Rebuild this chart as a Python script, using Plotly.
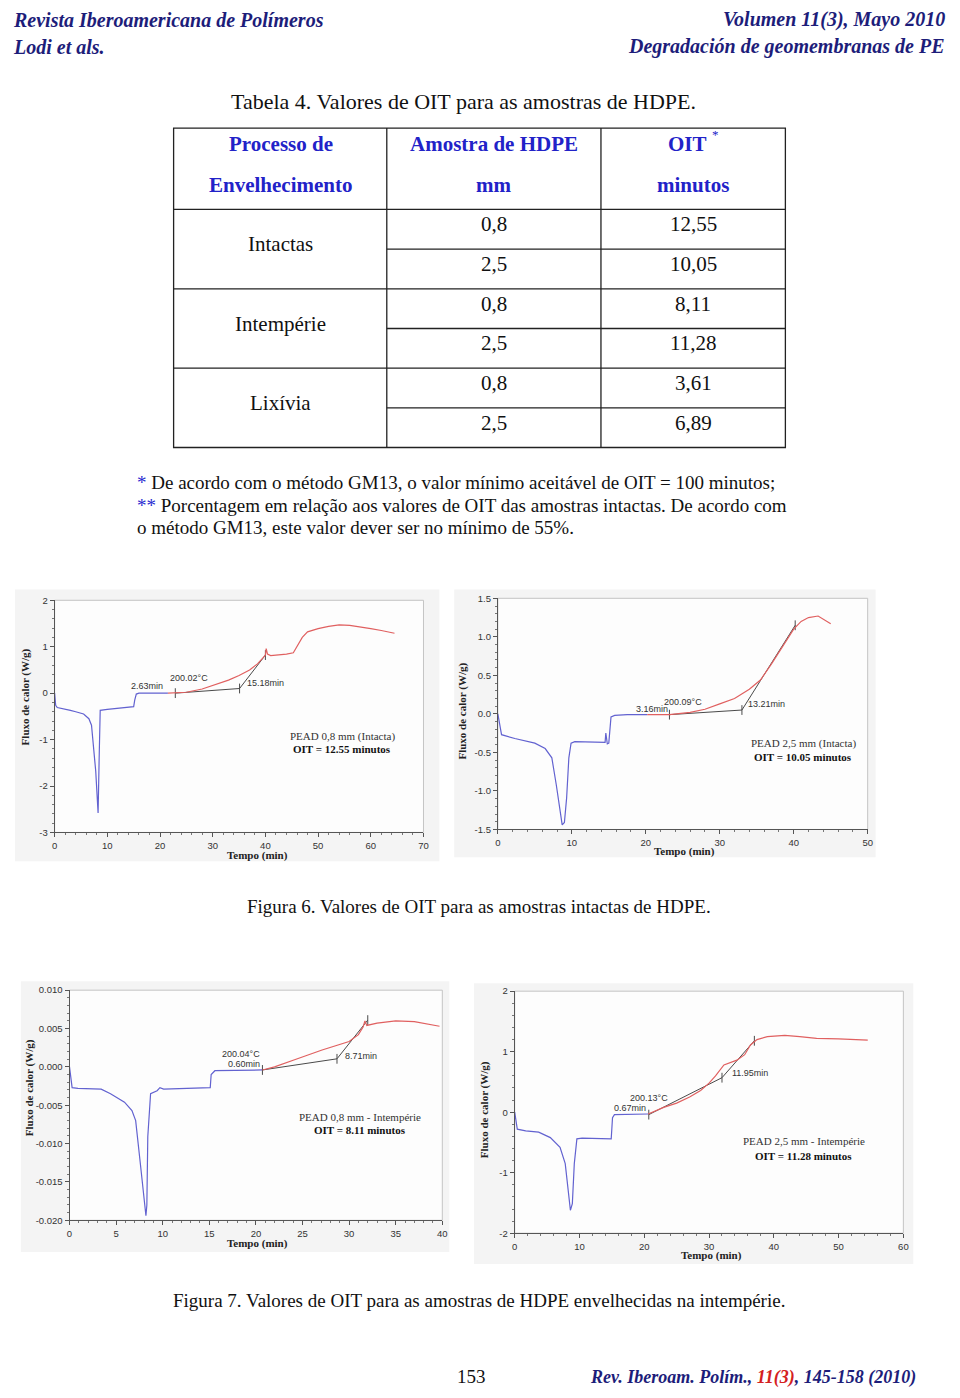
import plotly.graph_objects as go

# page of 960x1398; the browser keeps an 8 px body margin, so the figure is 944x1382
PAGE_MARGIN = 8
W, H = 960 - 2 * PAGE_MARGIN, 1398 - 2 * PAGE_MARGIN

# Tabela 4 - valores de OIT
processos = ["Intactas", "Intempérie", "Lixívia"]
espessuras = ["0,8", "2,5", "0,8", "2,5", "0,8", "2,5"]
oit_valores = ["12,55", "10,05", "8,11", "11,28", "3,61", "6,89"]

# Figura 6a - PEAD 0,8 mm (Intacta)
t1_azul = [0, 0.2, 0.5, 1.5, 3, 4, 5.5, 6.5, 7.0, 7.8, 8.25, 8.45, 8.65, 10, 12, 14, 15.0, 15.2, 15.5, 16, 18, 20, 21.5]
f1_azul = [0, -0.26, -0.31, -0.33, -0.37, -0.40, -0.45, -0.55, -0.69, -1.68, -2.58, -1.4, -0.37, -0.35, -0.33, -0.31, -0.29, -0.15, -0.02, 0.0, 0.0, 0.0, 0.0]
t1_verm = [21.5, 25, 28, 30, 33, 35, 37, 38.5, 40, 40.15, 40.4, 41, 42, 44, 45.3, 46, 47, 48, 50, 52, 54, 56, 58, 60, 62, 64.5]
f1_verm = [0.0, 0.02, 0.09, 0.17, 0.28, 0.38, 0.5, 0.63, 0.82, 0.96, 0.84, 0.81, 0.82, 0.84, 0.87, 1.0, 1.2, 1.32, 1.39, 1.44, 1.47, 1.46, 1.43, 1.39, 1.35, 1.29]
t1_tang = [22.9, 35.1, 40.0]
f1_tang = [0.0, 0.1, 0.82]
x1_ticks = [0, 10, 20, 30, 40, 50, 60, 70]
y1_ticks = [-3, -2, -1, 0, 1, 2]

# Figura 6b - PEAD 2,5 mm (Intacta)
t2_azul = [0, 0.5, 2.3, 5, 6.4, 7.3, 7.9, 8.4, 8.7, 9.0, 9.3, 9.6, 9.9, 10.4, 14.5, 14.6, 14.8, 15.0, 15.3, 15.8, 17.5, 20.2]
f2_azul = [0, -0.27, -0.32, -0.38, -0.45, -0.57, -0.92, -1.26, -1.44, -1.41, -1.09, -0.57, -0.38, -0.36, -0.37, -0.25, -0.39, -0.38, -0.04, -0.02, -0.01, -0.01]
t2_verm = [20.2, 23.2, 26, 28, 30, 32, 34, 35.5, 37, 38.5, 40, 41, 42, 43.3, 44, 45]
f2_verm = [-0.01, -0.01, 0.02, 0.06, 0.13, 0.2, 0.32, 0.44, 0.65, 0.88, 1.1, 1.2, 1.25, 1.27, 1.23, 1.17]
t2_tang = [23.2, 33.0, 40.2]
f2_tang = [-0.01, 0.05, 1.15]
x2_ticks = [0, 10, 20, 30, 40, 50]
y2_ticks = [-1.5, -1.0, -0.5, 0.0, 0.5, 1.0, 1.5]

# Figura 7a - PEAD 0,8 mm - Intempérie
t3_azul = [0, 0.28, 0.9, 3.4, 4.4, 5.9, 6.7, 7.1, 7.6, 8.1, 8.2, 8.3, 8.4, 8.7, 9.4, 9.7, 10.1, 15.1, 15.2, 15.6, 17.2, 20.7]
f3_azul = [0, -0.0027, -0.0028, -0.0029, -0.0035, -0.0046, -0.0057, -0.0070, -0.0126, -0.0177, -0.0194, -0.0180, -0.0091, -0.0035, -0.0031, -0.0027, -0.0029, -0.0027, -0.0010, -0.0005, -0.00045, -0.0004]
t3_verm = [20.7, 22, 24.3, 27.1, 30, 31.0, 31.5, 31.7, 31.9, 33, 35, 37, 39.7]
f3_verm = [-0.0004, 0.0, 0.001, 0.0022, 0.0033, 0.0042, 0.0052, 0.0060, 0.0054, 0.0057, 0.0060, 0.0059, 0.0053]
t3_tang = [20.7, 28.7, 32.0]
f3_tang = [-0.0004, 0.00105, 0.0061]
x3_ticks = [0, 5, 10, 15, 20, 25, 30, 35, 40]
y3_ticks = [-0.020, -0.015, -0.010, -0.005, 0.000, 0.005, 0.010]

# Figura 7b - PEAD 2,5 mm - Intempérie
t4_azul = [0, 0.4, 1.7, 3.7, 5.5, 7.0, 7.8, 8.3, 8.6, 8.9, 9.2, 9.6, 10.4, 14.9, 15.1, 15.4, 18.5, 20.6]
f4_azul = [0, -0.28, -0.31, -0.33, -0.42, -0.58, -0.85, -1.29, -1.62, -1.51, -0.85, -0.44, -0.43, -0.44, -0.09, -0.04, -0.04, -0.03]
t4_verm = [20.6, 22, 23, 25, 27, 28.7, 30, 31, 32.3, 34.3, 35.5, 36.4, 37.4, 39, 41.7, 44, 46.6, 50, 54.5]
f4_verm = [-0.03, 0.03, 0.08, 0.15, 0.25, 0.36, 0.48, 0.6, 0.78, 0.86, 0.95, 1.11, 1.2, 1.25, 1.27, 1.25, 1.22, 1.21, 1.19]
t4_tang = [20.7, 32.0, 37.0]
f4_tang = [-0.04, 0.57, 1.18]
x4_ticks = [0, 10, 20, 30, 40, 50, 60]
y4_ticks = [-2, -1, 0, 1, 2]

paineis = [
    dict(t_azul=t1_azul, f_azul=f1_azul, t_verm=t1_verm, f_verm=f1_verm, t_tang=t1_tang, f_tang=f1_tang,
         xt=x1_ticks, yt=y1_ticks, fmt="{:g}", mdx=2, mdy=0.2,
         xdom=(52, 424), ydom=(599, 833), xr=[0, 70], yr=[-3, 2],
         img=(12, 588, 440, 862), ytit=(23, 696), xtit=(257, 856),
         rotulos=[("2.63min", 21.0, 0.15, "right"), ("200.02°C", 21.6, 0.33, "left"), ("15.18min", 36.2, 0.21, "left")],
         caixa=(54.6, -0.93, -1.2, "PEAD 0,8 mm (Intacta)", "OIT = 12.55 minutos")),
    dict(t_azul=t2_azul, f_azul=f2_azul, t_verm=t2_verm, f_verm=f2_verm, t_tang=t2_tang, f_tang=f2_tang,
         xt=x2_ticks, yt=y2_ticks, fmt="{:.1f}", mdx=2, mdy=0.1,
         xdom=(499, 872), ydom=(597, 830), xr=[0, 50], yr=[-1.5, 1.5],
         img=(455, 588, 880, 858), ytit=(463, 711), xtit=(687, 852),
         rotulos=[("3.16min", 18.4, 0.06, "left"), ("200.09°C", 22.2, 0.16, "left"), ("13.21min", 33.6, 0.13, "left")],
         caixa=(41.3, -0.39, -0.56, "PEAD 2,5 mm (Intacta)", "OIT = 10.05 minutos")),
    dict(t_azul=t3_azul, f_azul=f3_azul, t_verm=t3_verm, f_verm=f3_verm, t_tang=t3_tang, f_tang=f3_tang,
         xt=x3_ticks, yt=y3_ticks, fmt="{:.3f}", mdx=1, mdy=0.001,
         xdom=(67, 443), ydom=(992, 1224), xr=[0, 40], yr=[-0.02, 0.01],
         img=(18, 983, 450, 1256), ytit=(27, 1090), xtit=(257, 1247),
         rotulos=[("200.04°C", 20.6, 0.0017, "right"), ("0.60min", 20.7, 0.0004, "right"), ("8.71min", 29.3, 0.0014, "left")],
         caixa=(31.2, -0.0065, -0.0082, "PEAD 0,8 mm - Intempérie", "OIT = 8.11 minutos")),
    dict(t_azul=t4_azul, f_azul=f4_azul, t_verm=t4_verm, f_verm=f4_verm, t_tang=t4_tang, f_tang=f4_tang,
         xt=x4_ticks, yt=y4_ticks, fmt="{:g}", mdx=2, mdy=0.2,
         xdom=(516, 908), ydom=(993, 1237), xr=[0, 60], yr=[-2, 2],
         img=(475, 985, 918, 1268), ytit=(485, 1112), xtit=(714, 1259),
         rotulos=[("200.13°C", 17.5, 0.24, "left"), ("0.67min", 20.6, 0.07, "right"), ("11.95min", 33.3, 0.65, "left")],
         caixa=(44.6, -0.48, -0.73, "PEAD 2,5 mm - Intempérie", "OIT = 11.28 minutos")),
]


def px(x):
    return (x - PAGE_MARGIN) / W


def py(y):
    return 1 - (y - PAGE_MARGIN) / H


SERIF = "Liberation Serif, Times New Roman, serif"
SANS = "Liberation Sans, Arial, sans-serif"
NAVY = "#1d1d7a"
AZUL_TAB = "#2222c8"

fig = go.Figure()
shapes = []
annotations = []

for i, p in enumerate(paineis, start=1):
    sx = "" if i == 1 else str(i)
    xa, ya = "x" + sx, "y" + sx

    fig.add_trace(go.Scatter(x=p["t_azul"], y=p["f_azul"], mode="lines", xaxis=xa, yaxis=ya,
                             line=dict(color="#6262d0", width=1.2), showlegend=False))
    fig.add_trace(go.Scatter(x=p["t_tang"], y=p["f_tang"], mode="lines+markers", xaxis=xa, yaxis=ya,
                             line=dict(color="#4a4a4a", width=1),
                             marker=dict(symbol="line-ns", size=7, line=dict(color="#4a4a4a", width=1)),
                             showlegend=False))
    fig.add_trace(go.Scatter(x=p["t_verm"], y=p["f_verm"], mode="lines", xaxis=xa, yaxis=ya,
                             line=dict(color="#e06060", width=1.2), showlegend=False))

    eixo = dict(showline=True, linecolor="#555", linewidth=1, ticks="outside", ticklen=4, tickcolor="#555",
                tickfont=dict(family=SANS, size=9.5, color="#333"), showgrid=False, zeroline=False)
    fig.layout["xaxis" + sx] = dict(eixo, domain=[px(p["xdom"][0]), px(p["xdom"][1])], range=p["xr"],
                                    tickmode="array", tickvals=p["xt"], ticktext=[str(v) for v in p["xt"]],
                                    anchor=ya,
                                    minor=dict(ticks="outside", ticklen=2, tickcolor="#777", dtick=p["mdx"], tick0=0))
    fig.layout["yaxis" + sx] = dict(eixo, domain=[py(p["ydom"][1]), py(p["ydom"][0])], range=p["yr"],
                                    tickmode="array", tickvals=p["yt"], ticktext=[p["fmt"].format(v) for v in p["yt"]],
                                    anchor=xa,
                                    minor=dict(ticks="outside", ticklen=2, tickcolor="#777", dtick=p["mdy"], tick0=0))

    x0, y0, x1, y1 = p["img"]
    shapes.append(dict(type="rect", xref="paper", yref="paper", x0=px(x0), x1=px(x1), y0=py(y1), y1=py(y0),
                       fillcolor="#f4f4f4", line=dict(width=0), layer="below"))
    shapes.append(dict(type="rect", xref=xa + " domain", yref=ya + " domain", x0=0, x1=1, y0=0, y1=1,
                       fillcolor="#fdfdfd", line=dict(color="#c4c4c4", width=1), layer="below"))

    annotations.append(dict(text="<b>Fluxo de calor (W/g)</b>", xref="paper", yref="paper",
                            x=px(p["ytit"][0]), y=py(p["ytit"][1]), xanchor="center", yanchor="middle",
                            textangle=-90, showarrow=False, font=dict(family=SERIF, size=11, color="#222")))
    annotations.append(dict(text="<b>Tempo (min)</b>", xref="paper", yref="paper",
                            x=px(p["xtit"][0]), y=py(p["xtit"][1]), xanchor="center", yanchor="middle",
                            showarrow=False, font=dict(family=SERIF, size=11, color="#222")))
    for txt_, tx, ty, anc in p["rotulos"]:
        annotations.append(dict(text=txt_, xref=xa, yref=ya, x=tx, y=ty, xanchor=anc, yanchor="middle",
                                showarrow=False, font=dict(family=SANS, size=9, color="#333")))
    cx, cy1, cy2, l1, l2 = p["caixa"]
    annotations.append(dict(text=l1, xref=xa, yref=ya, x=cx, y=cy1, xanchor="center", yanchor="middle",
                            showarrow=False, font=dict(family=SERIF, size=11, color="#333")))
    annotations.append(dict(text="<b>" + l2 + "</b>", xref=xa, yref=ya, x=cx, y=cy2, xanchor="center",
                            yanchor="middle", showarrow=False, font=dict(family=SERIF, size=11, color="#111")))


def txt(s, x, y, size=21, color="#111", anc="center", fam=SERIF):
    return dict(text=s, x=px(x), y=py(y), xref="paper", yref="paper", xanchor=anc, yanchor="middle",
                showarrow=False, font=dict(family=fam, size=size, color=color))


# Cabeçalho
annotations += [
    txt("<b><i>Revista Iberoamericana de Polímeros</i></b>", 8, 14, size=20, color=NAVY, anc="left"),
    txt("<b><i>Lodi et als.</i></b>", 8, 41, size=20, color=NAVY, anc="left"),
    txt("<b><i>Volumen 11(3), Mayo 2010</i></b>", 952, 14, size=20, color=NAVY, anc="right"),
    txt("<b><i>Degradación de geomembranas de PE</i></b>", 952, 41, size=20, color=NAVY, anc="right"),
]

# Tabela
annotations.append(txt("Tabela 4. Valores de OIT para as amostras de HDPE.", 228, 96, size=22, anc="left"))
annotations += [
    txt("<b>Processo de</b>", 280, 139, color=AZUL_TAB),
    txt("<b>Envelhecimento</b>", 280, 180, color=AZUL_TAB),
    txt("<b>Amostra de HDPE</b>", 495, 139, color=AZUL_TAB),
    txt("<b>mm</b>", 495, 180, color=AZUL_TAB),
    txt("<b>OIT</b>", 690, 139, color=AZUL_TAB),
    txt("*", 719, 129, size=13, color=AZUL_TAB),
    txt("<b>minutos</b>", 696, 180, color=AZUL_TAB),
]
for k, proc in enumerate(processos):
    annotations.append(txt(proc, 280, 240 + 80 * k))
for k, (esp, val) in enumerate(zip(espessuras, oit_valores)):
    annotations.append(txt(esp, 495, 220 + 40 * k))
    annotations.append(txt(val, 696, 220 + 40 * k))

linha = dict(color="#222", width=1.3)
shapes.append(dict(type="rect", xref="paper", yref="paper", x0=px(172), x1=px(789), y0=py(445), y1=py(123), line=linha))
for xv in (387, 603):
    shapes.append(dict(type="line", xref="paper", yref="paper", x0=px(xv), x1=px(xv), y0=py(445), y1=py(123), line=linha))
for yv in (205, 285, 365):
    shapes.append(dict(type="line", xref="paper", yref="paper", x0=px(172), x1=px(789), y0=py(yv), y1=py(yv), line=linha))
for yv in (245, 325, 405):
    shapes.append(dict(type="line", xref="paper", yref="paper", x0=px(387), x1=px(789), y0=py(yv), y1=py(yv), line=linha))

# Notas e legendas
ast = "<span style='color:#2a2ad0'>%s</span>"
annotations += [
    txt(ast % "*" + " De acordo com o método GM13, o valor mínimo aceitável de OIT = 100 minutos;", 133, 480, size=19, anc="left"),
    txt(ast % "**" + " Porcentagem em relação aos valores de OIT das amostras intactas. De acordo com", 133, 503, size=19, anc="left"),
    txt("o método GM13, este valor dever ser no mínimo de 55%.", 133, 526, size=19, anc="left"),
    txt("Figura 6. Valores de OIT para as amostras intactas de HDPE.", 480, 908, size=19),
    txt("Figura 7. Valores de OIT para as amostras de HDPE envelhecidas na intempérie.", 480, 1305, size=19),
    txt("153", 472, 1381, size=19),
    txt("<b><i>Rev. Iberoam. Polím., <span style='color:#d42020'>11(3)</span>, 145-158 (2010)</i></b>",
        923, 1382, size=18, color=NAVY, anc="right"),
]

fig.update_layout(width=W, height=H, autosize=False, margin=dict(l=0, r=0, t=0, b=0),
                  paper_bgcolor="white", plot_bgcolor="rgba(0,0,0,0)",
                  shapes=shapes, annotations=annotations, showlegend=False)

fig.write_html("out.html", config=dict(displayModeBar=False))
